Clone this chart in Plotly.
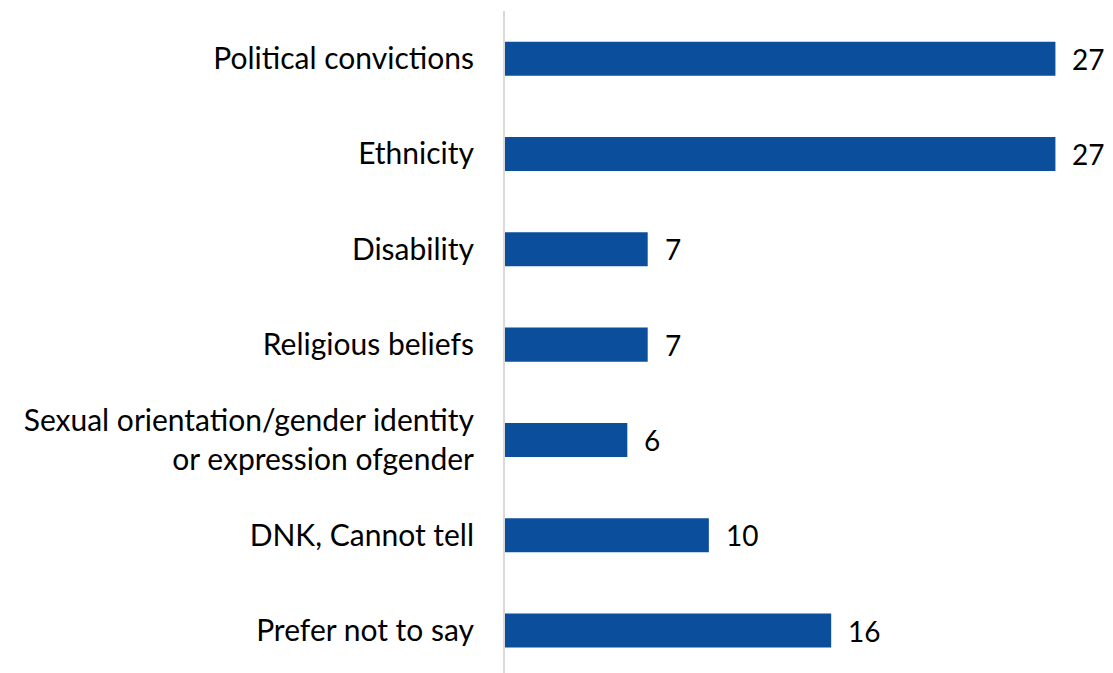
import plotly.graph_objects as go

categories = [
    "Political convictions",
    "Ethnicity",
    "Disability",
    "Religious beliefs",
    "Sexual orientation/gender identity<br>or expression ofgender",
    "DNK, Cannot tell",
    "Prefer not to say",
]
values = [27, 27, 7, 7, 6, 10, 16]

BAR_COLOR = "#0B4F9C"
FONT = "Lato"

fig = go.Figure(
    go.Bar(
        x=values,
        y=categories,
        orientation="h",
        marker=dict(color=BAR_COLOR, line=dict(width=0)),
        width=0.357,
        hoverinfo="x+y",
    )
)

for cat, val in zip(categories, values):
    fig.add_annotation(
        x=val, y=cat, text=str(val), showarrow=False,
        xanchor="left", xshift=15, yanchor="middle",
        font=dict(family=FONT, size=28, color="#000000"),
    )

fig.update_layout(
    width=1113, height=673,
    margin=dict(l=505, r=27, t=11, b=0),
    paper_bgcolor="white", plot_bgcolor="white",
    showlegend=False,
    font=dict(family=FONT, size=30, color="#000000"),
    xaxis=dict(range=[0, 28.5], showgrid=False, zeroline=False,
               showticklabels=False, showline=False),
    yaxis=dict(
        categoryorder="array", categoryarray=categories,
        range=[6.445, -0.5], showgrid=False, zeroline=False,
        showline=True, linecolor="#D9D9D9", linewidth=2,
        ticks="", ticklabelstandoff=23,
        tickfont=dict(family=FONT, size=30, color="#000000"),
    ),
)

fig.write_html("out.html")
